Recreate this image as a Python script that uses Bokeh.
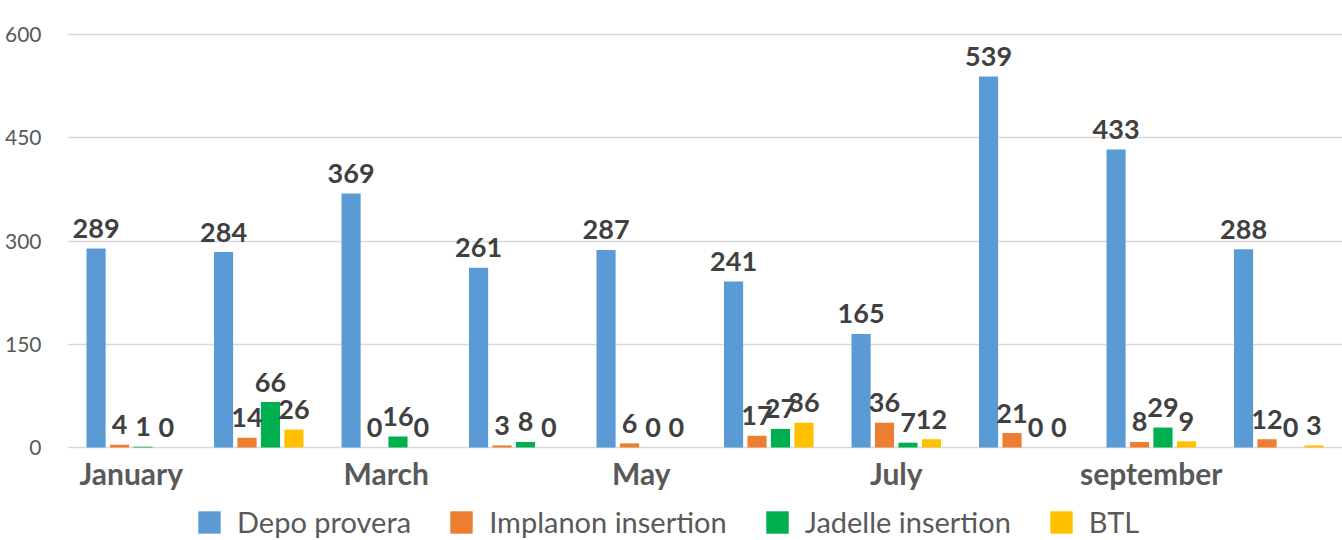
from bokeh.plotting import figure
from bokeh.models import ColumnDataSource, Legend, LegendItem, FixedTicker
from bokeh.transform import dodge
from bokeh.core.properties import value
from bokeh.embed import file_html
from bokeh.resources import INLINE
import numpy as np

months = ["January", "February", "March", "April", "May", "June",
          "July", "August", "september", "October"]
shown_months = ["January", "March", "May", "July", "september"]
series_names = ["Depo provera", "Implanon insertion", "Jadelle insertion", "BTL"]
depo = [289, 284, 369, 261, 287, 241, 165, 539, 433, 288]
implanon = [4, 14, 0, 3, 6, 17, 36, 21, 8, 12]
jadelle = [1, 66, 16, 8, 0, 27, 7, 0, 29, 0]
btl = [0, 26, 0, 0, 0, 36, 12, 0, 9, 3]
y_ticks = [0, 150, 300, 450, 600]

colors = ["#5B9BD5", "#ED7D31", "#00B050", "#FFC000"]
offsets = [-0.276, -0.092, 0.092, 0.276]
FONT = "Lato"

xc = np.arange(len(months)) + 0.5
data = dict(x=xc, month=months)
for key, vals in zip(["s0", "s1", "s2", "s3"], [depo, implanon, jadelle, btl]):
    data[key] = vals
    data[key + "_t"] = [str(v) for v in vals]
src = ColumnDataSource(data)

lab_src = ColumnDataSource(dict(
    x=[float(xc[months.index(m)]) for m in shown_months],
    y=[0] * len(shown_months),
    t=shown_months))

# frame: left 67 .. right 1342, top 0 .. bottom 540 ; zero line at y=447
ppu = 103.25 / 150.0
p = figure(width=1342, height=540, x_range=(0, 10), y_range=(-(540 - 447) / ppu, 447 / ppu),
           output_backend="svg", toolbar_location=None,
           min_border_left=67, min_border_right=0, min_border_top=0, min_border_bottom=0)
p.outline_line_color = None
p.background_fill_color = "white"
p.border_fill_color = "white"
p.xaxis.visible = False

p.xgrid.visible = False
p.ygrid.grid_line_color = "#D9D9D9"
p.ygrid.grid_line_width = 1.5
p.ygrid.ticker = FixedTicker(ticks=y_ticks)

renderers = []
for i, key in enumerate(["s0", "s1", "s2", "s3"]):
    r = p.vbar(x=dodge("x", offsets[i]), top=key, width=0.15, bottom=0, source=src,
               fill_color=colors[i], line_color=None)
    renderers.append(r)
for i, key in enumerate(["s0", "s1", "s2", "s3"]):
    p.text(x=dodge("x", offsets[i]), y=key, text=key + "_t", source=src,
           text_align="center", text_baseline="alphabetic", y_offset=-20,
           text_font=value(FONT), text_font_style="bold", text_font_size="27px",
           text_color="#404040")

# category labels (below the zero line)
p.text(x="x", y="y", text="t", source=lab_src, text_align="center",
       text_baseline="alphabetic", y_offset=25,
       text_font=value(FONT), text_font_style="bold", text_font_size="30px",
       text_color="#595959")

p.yaxis.ticker = FixedTicker(ticks=y_ticks)
p.yaxis.axis_line_color = None
p.yaxis.major_tick_line_color = None
p.yaxis.minor_tick_line_color = None
p.yaxis.major_tick_out = 0
p.yaxis.major_label_standoff = 26
p.yaxis.major_label_text_font = FONT
p.yaxis.major_label_text_font_size = "21px"
p.yaxis.major_label_text_color = "#595959"

legend = Legend(items=[LegendItem(label=n, renderers=[r]) for n, r in zip(series_names, renderers)],
                orientation="horizontal", location=(128, 1),
                glyph_width=28, glyph_height=28, label_standoff=14, spacing=36,
                label_text_font=FONT, label_text_font_size="29px",
                label_text_color="#595959", border_line_color=None,
                background_fill_alpha=0, padding=0, margin=0)
p.add_layout(legend, "center")

open("out.html", "w").write(file_html(p, INLINE))
